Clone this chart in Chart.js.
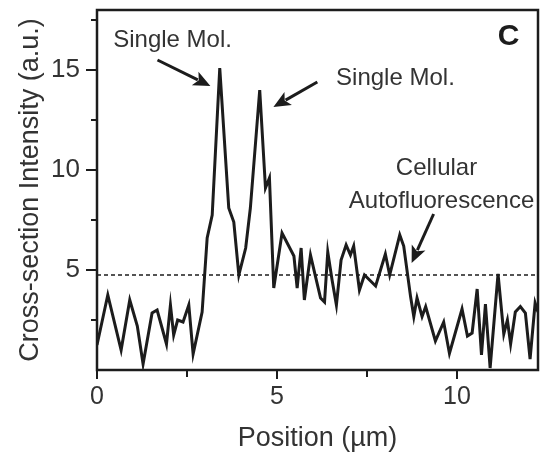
<!DOCTYPE html>
<html>
<head>
<meta charset="utf-8">
<script src="https://cdn.jsdelivr.net/npm/chart.js@4/dist/chart.umd.min.js"></script>
<style>
  html, body { margin: 0; padding: 0; background: #fff; }
  #wrap { width: 544px; height: 455px; }
</style>
</head>
<body>
<div id="wrap"><canvas id="c" width="544" height="455"></canvas></div>
<script>
// position along the cross-section (um) and measured intensity (a.u.)
const positions = [0.0,0.30,0.67,0.91,1.12,1.28,1.53,1.67,1.93,2.04,2.13,2.24,2.39,2.55,2.67,2.92,3.06,3.20,3.41,3.66,3.80,3.94,4.13,4.26,4.52,4.68,4.79,4.91,5.14,5.47,5.56,5.67,5.76,5.93,6.07,6.21,6.32,6.41,6.53,6.65,6.78,6.92,7.04,7.13,7.29,7.43,7.74,8.01,8.13,8.41,8.52,8.71,8.80,8.89,9.03,9.13,9.40,9.63,9.79,10.14,10.29,10.42,10.56,10.68,10.79,10.92,11.14,11.30,11.40,11.49,11.62,11.76,11.90,12.03,12.17,12.25];
const intensity = [1.25,3.75,1.0,3.5,2.2,0.3,2.85,3.0,1.3,3.25,1.75,2.5,2.4,3.25,0.8,2.9,6.6,7.75,15.1,8.1,7.4,4.75,6.1,8.1,14.0,9.1,9.6,4.1,6.85,5.7,4.1,6.1,3.5,5.75,4.67,3.6,3.4,5.9,4.5,3.25,5.5,6.25,5.75,6.2,4.0,4.75,4.2,5.8,4.75,6.75,6.2,3.67,2.67,3.6,2.67,3.17,1.45,2.4,0.83,3.05,1.7,1.85,4.05,0.75,3.3,0.1,4.8,1.8,2.5,1.3,2.9,3.17,2.85,0.55,3.35,2.9];

// background (autofluorescence) threshold level
const thresholdLevel = 4.75;

// axis ranges and ticks
const xRange = [0, 12.25];
const yRange = [0, 18];
const xTicks = [0, 2.5, 5, 7.5, 10];
const yTicks = [2.5, 5, 7.5, 10, 12.5, 15, 17.5];
const xLabelled = [0, 5, 10];
const yLabelled = [5, 10, 15];

// annotations in data units: [text, x, y]
const labels = [
  ['Single Mol.', 2.1, 16.15],
  ['Single Mol.', 8.29, 14.25],
  ['Cellular', 9.43, 9.75],
  ['Autofluorescence', 9.57, 8.1]
];
// arrows: [fromX, fromY, tipX, tipY]
const arrows = [
  [1.68, 15.5, 3.15, 14.2],
  [6.12, 14.4, 4.90, 13.15],
  [9.35, 7.8, 8.74, 5.35]
];
const panelLetter = ['C', 11.43, 16.25];

const FONT = "'Liberation Sans', Arial, Helvetica, sans-serif";
const INK = '#1c1c1c';
const TXT = '#333333';

const profile = positions.map((x, i) => ({ x: x, y: intensity[i] }));
const threshold = [{ x: xRange[0], y: thresholdLevel }, { x: xRange[1], y: thresholdLevel }];

const decor = {
  id: 'decor',
  afterDraw(chart) {
    const ctx = chart.ctx;
    const a = chart.chartArea;
    const xs = chart.scales.x, ys = chart.scales.y;
    ctx.save();
    // frame
    ctx.strokeStyle = INK;
    ctx.lineWidth = 2.5;
    ctx.strokeRect(a.left, a.top, a.right - a.left, a.bottom - a.top);
    // ticks
    ctx.lineWidth = 2;
    ctx.beginPath();
    yTicks.forEach(v => {
      const p = ys.getPixelForValue(v);
      const len = yLabelled.includes(v) ? 11 : 6;
      ctx.moveTo(a.left - len, p); ctx.lineTo(a.left, p);
    });
    xTicks.forEach(v => {
      const p = xs.getPixelForValue(v);
      const len = xLabelled.includes(v) ? 9 : 7;
      ctx.moveTo(p, a.bottom); ctx.lineTo(p, a.bottom + len);
    });
    ctx.stroke();
    // annotation text
    ctx.fillStyle = TXT;
    ctx.textAlign = 'center';
    ctx.textBaseline = 'alphabetic';
    ctx.font = '24px ' + FONT;
    labels.forEach(([t, x, y]) => {
      ctx.fillText(t, xs.getPixelForValue(x), ys.getPixelForValue(y));
    });
    ctx.font = 'bold 30px ' + FONT;
    ctx.fillStyle = INK;
    ctx.fillText(panelLetter[0], xs.getPixelForValue(panelLetter[1]), ys.getPixelForValue(panelLetter[2]));
    // arrows
    arrows.forEach(([fx, fy, tx, ty]) => {
      const x0 = xs.getPixelForValue(fx), y0 = ys.getPixelForValue(fy);
      const x1 = xs.getPixelForValue(tx), y1 = ys.getPixelForValue(ty);
      const ang = Math.atan2(y1 - y0, x1 - x0);
      const hl = 17, hw = 7.5;
      const bx = x1 - hl * Math.cos(ang), by = y1 - hl * Math.sin(ang);
      ctx.strokeStyle = INK;
      ctx.lineWidth = 3;
      ctx.beginPath();
      ctx.moveTo(x0, y0); ctx.lineTo(bx + 3 * Math.cos(ang), by + 3 * Math.sin(ang));
      ctx.stroke();
      ctx.fillStyle = INK;
      ctx.beginPath();
      ctx.moveTo(x1, y1);
      ctx.lineTo(bx - hw * Math.sin(ang), by + hw * Math.cos(ang));
      ctx.lineTo(bx + 4 * Math.cos(ang), by + 4 * Math.sin(ang));
      ctx.lineTo(bx + hw * Math.sin(ang), by - hw * Math.cos(ang));
      ctx.closePath();
      ctx.fill();
    });
    ctx.restore();
  }
};

new Chart(document.getElementById('c').getContext('2d'), {
  type: 'line',
  data: {
    datasets: [
      {
        data: profile,
        borderColor: INK,
        borderWidth: 3,
        pointRadius: 0,
        tension: 0,
        borderJoinStyle: 'miter'
      },
      {
        data: threshold,
        borderColor: INK,
        borderWidth: 1.3,
        borderDash: [4, 3],
        pointRadius: 0
      }
    ]
  },
  options: {
    responsive: false,
    animation: false,
    layout: { autoPadding: false, padding: { top: 10, right: 6, left: 14, bottom: 0 } },
    plugins: { legend: { display: false }, tooltip: { enabled: false } },
    scales: {
      x: {
        type: 'linear',
        min: xRange[0],
        max: xRange[1],
        grid: { display: false, drawTicks: false },
        border: { display: false },
        afterBuildTicks: s => { s.ticks = xTicks.map(v => ({ value: v })); },
        afterFit: s => { s.height = 85; s.paddingLeft = 0; s.paddingRight = 0; },
        ticks: {
          autoSkip: false,
          maxRotation: 0,
          padding: 12,
          color: TXT,
          font: { family: FONT, size: 25 },
          callback: v => xLabelled.includes(v) ? String(v) : null
        },
        title: {
          display: true,
          text: 'Position (\u00b5m)',
          color: TXT,
          font: { family: FONT, size: 27 },
          padding: { top: 2, bottom: 0 }
        }
      },
      y: {
        type: 'linear',
        min: yRange[0],
        max: yRange[1],
        grid: { display: false, drawTicks: false },
        border: { display: false },
        afterBuildTicks: s => { s.ticks = yTicks.map(v => ({ value: v })); },
        afterFit: s => { s.width = 83; s.paddingTop = 0; s.paddingBottom = 0; },
        ticks: {
          autoSkip: false,
          padding: 17,
          color: TXT,
          font: { family: FONT, size: 26 },
          callback: v => yLabelled.includes(v) ? String(v) : null
        },
        title: {
          display: true,
          text: 'Cross-section Intensity (a.u.)',
          color: TXT,
          font: { family: FONT, size: 27 },
          padding: { top: 0, bottom: 5 }
        }
      }
    }
  },
  plugins: [decor]
});
</script>
</body>
</html>
